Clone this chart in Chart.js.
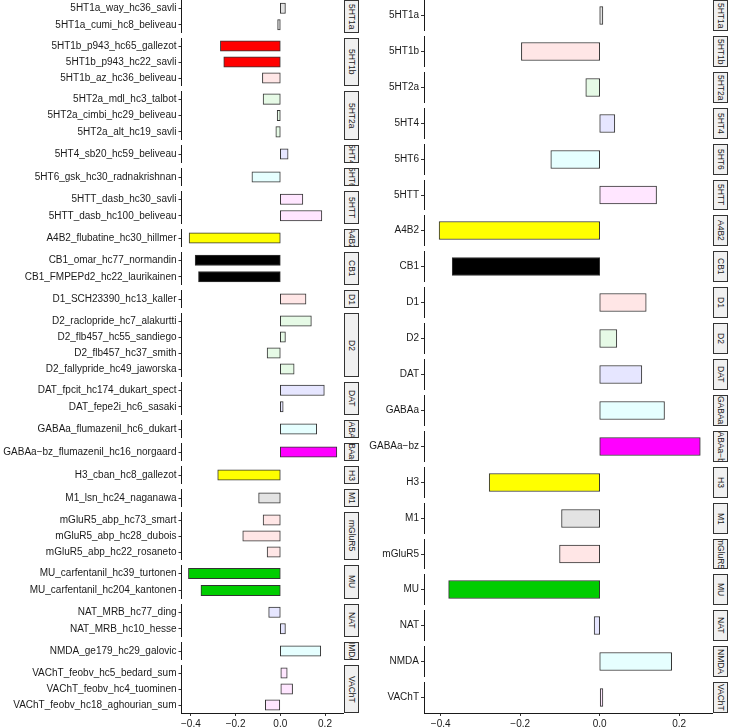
<!DOCTYPE html>
<html lang="en">
<head>
  <meta charset="UTF-8">
  <title>Receptor effects</title>
  <script src="https://cdn.jsdelivr.net/npm/chart.js"></script>
  <style>
    body { margin: 0; background: #fff; }
    #wrap { position: relative; width: 730px; height: 727px; overflow: hidden; font-family: "Liberation Sans", Arial, sans-serif; }
    #wrap canvas { position: absolute; }
    .strip {
      position: absolute; box-sizing: border-box;
      background: #f0f0f0; border: 1px solid #333;
      overflow: hidden; display: flex; align-items: center; justify-content: center;
    }
    .strip span { writing-mode: vertical-rl; font-size: 8.5px; color: #1a1a1a; white-space: nowrap; line-height: 1; }
  </style>
</head>
<body>
<div id="wrap"></div>
<script>
  // left panel: one bar per map
  const studyLabels = [
    "5HT1a_way_hc36_savli", "5HT1a_cumi_hc8_beliveau",
    "5HT1b_p943_hc65_gallezot", "5HT1b_p943_hc22_savli", "5HT1b_az_hc36_beliveau",
    "5HT2a_mdl_hc3_talbot", "5HT2a_cimbi_hc29_beliveau", "5HT2a_alt_hc19_savli",
    "5HT4_sb20_hc59_beliveau",
    "5HT6_gsk_hc30_radnakrishnan",
    "5HTT_dasb_hc30_savli", "5HTT_dasb_hc100_beliveau",
    "A4B2_flubatine_hc30_hillmer",
    "CB1_omar_hc77_normandin", "CB1_FMPEPd2_hc22_laurikainen",
    "D1_SCH23390_hc13_kaller",
    "D2_raclopride_hc7_alakurtti", "D2_flb457_hc55_sandiego", "D2_flb457_hc37_smith", "D2_fallypride_hc49_jaworska",
    "DAT_fpcit_hc174_dukart_spect", "DAT_fepe2i_hc6_sasaki",
    "GABAa_flumazenil_hc6_dukart",
    "GABAa-bz_flumazenil_hc16_norgaard",
    "H3_cban_hc8_gallezot",
    "M1_lsn_hc24_naganawa",
    "mGluR5_abp_hc73_smart", "mGluR5_abp_hc28_dubois", "mGluR5_abp_hc22_rosaneto",
    "MU_carfentanil_hc39_turtonen", "MU_carfentanil_hc204_kantonen",
    "NAT_MRB_hc77_ding", "NAT_MRB_hc10_hesse",
    "NMDA_ge179_hc29_galovic",
    "VAChT_feobv_hc5_bedard_sum", "VAChT_feobv_hc4_tuominen", "VAChT_feobv_hc18_aghourian_sum"
  ];
  const studyGroups = [
    "5HT1a", "5HT1a",
    "5HT1b", "5HT1b", "5HT1b",
    "5HT2a", "5HT2a", "5HT2a",
    "5HT4",
    "5HT6",
    "5HTT", "5HTT",
    "A4B2",
    "CB1", "CB1",
    "D1",
    "D2", "D2", "D2", "D2",
    "DAT", "DAT",
    "GABAa",
    "GABAa-bz",
    "H3",
    "M1",
    "mGluR5", "mGluR5", "mGluR5",
    "MU", "MU",
    "NAT", "NAT",
    "NMDA",
    "VAChT", "VAChT", "VAChT"
  ];
  const studyValues = [
    0.023, -0.012,
    -0.268, -0.253, -0.080,
    -0.077, -0.014, -0.020,
    0.035,
    -0.127,
    0.101, 0.186,
    -0.408,
    -0.381, -0.366,
    0.115,
    0.139, 0.023, -0.059, 0.062,
    0.197, 0.013,
    0.163,
    0.253,
    -0.280,
    -0.097,
    -0.077, -0.168, -0.059,
    -0.411, -0.355,
    -0.052, 0.023,
    0.181,
    0.031, 0.055, -0.067
  ];
  const studySig = [
    0, 0,
    1, 1, 0,
    0, 0, 0,
    0,
    0,
    0, 0,
    1,
    1, 1,
    0,
    0, 0, 0, 0,
    0, 0,
    0,
    1,
    1,
    0,
    0, 0, 0,
    1, 1,
    0, 0,
    0,
    0, 0, 0
  ];

  // right panel: one bar per receptor
  const receptors = ["5HT1a", "5HT1b", "5HT2a", "5HT4", "5HT6", "5HTT", "A4B2", "CB1", "D1", "D2",
    "DAT", "GABAa", "GABAa-bz", "H3", "M1", "mGluR5", "MU", "NAT", "NMDA", "VAChT"];
  const receptorValues = [0.008, -0.197, -0.035, 0.038, -0.123, 0.143, -0.404, -0.371, 0.117, 0.043,
    0.106, 0.163, 0.253, -0.278, -0.096, -0.101, -0.380, -0.014, 0.181, 0.008];
  const receptorSig = [0, 0, 0, 0, 0, 0, 1, 1, 0, 0,
    0, 0, 1, 1, 0, 0, 1, 0, 0, 0];

  const xTicks = [-0.4, -0.2, 0, 0.2];
  const xMin = -0.442, xMax = 0.285;

  // colour family of each receptor, full for significant bars, pale otherwise
  const receptorHue = ["grey", "red", "green", "blue", "cyan", "magenta", "yellow", "black", "red", "green",
    "blue", "cyan", "magenta", "yellow", "grey", "red", "green", "blue", "cyan", "magenta"];
  const fullCols = { grey: "#bebebe", red: "#ff0000", green: "#00cd00", blue: "#0000ff", cyan: "#00ffff", magenta: "#ff00ff", yellow: "#ffff00", black: "#000000" };
  const paleCols = { grey: "#e3e3e3", red: "#ffe6e6", green: "#e6fae6", blue: "#e6e6ff", cyan: "#e6ffff", magenta: "#ffe6ff", yellow: "#ffffe6", black: "#e6e6e6" };
  function barColor(group, sig) {
    const hue = receptorHue[receptors.indexOf(group)];
    return sig ? fullCols[hue] : paleCols[hue];
  }

  const fam = '"Liberation Sans", Arial, sans-serif';
  Chart.defaults.font.family = fam;
  const minus = s => String(s).replace('-', '\u2212');
  const fmtNum = v => (v < 0 ? '\u2212' : '') + Math.abs(v).toFixed(1);

  const wrap = document.getElementById('wrap');
  const xAxisH = 14;

  function makeFacet(side, f, top, bottom, u, last) {
    const t = Math.round(top), b = Math.round(bottom);
    const w = side.plotRight - side.x0;
    const h = b - t + (last ? xAxisH : 0);
    const cv = document.createElement('canvas');
    cv.width = w; cv.height = h;
    cv.style.left = side.x0 + 'px'; cv.style.top = t + 'px';
    cv.style.width = w + 'px'; cv.style.height = h + 'px';
    wrap.appendChild(cv);

    new Chart(cv, {
      type: 'bar',
      data: {
        labels: f.labels.map(minus),
        datasets: [{
          data: f.values,
          backgroundColor: f.values.map((v, i) => barColor(f.group, f.sig[i])),
          borderColor: '#333',
          borderWidth: 1,
          borderSkipped: false,
          barThickness: 0.7 * u
        }]
      },
      options: {
        indexAxis: 'y',
        responsive: false,
        animation: false,
        devicePixelRatio: 1,
        layout: { padding: 0 },
        plugins: { legend: { display: false }, tooltip: { enabled: false } },
        scales: {
          y: {
            offset: true,
            grid: { offset: false, drawOnChartArea: false, tickLength: 3, tickColor: '#333' },
            border: { display: true, color: '#1a1a1a', width: 1 },
            ticks: { autoSkip: false, padding: 2, color: '#1a1a1a', font: { size: 10 } },
            afterFit: s => { s.width = side.axisX - side.x0; s.paddingTop = 0; s.paddingBottom = 0; }
          },
          x: {
            type: 'linear',
            min: xMin, max: xMax,
            display: last,
            afterBuildTicks: s => { s.ticks = xTicks.map(v => ({ value: v })); },
            grid: { drawOnChartArea: false, tickLength: 3, tickColor: '#333' },
            border: { display: true, color: '#1a1a1a', width: 1 },
            ticks: { padding: 2, color: '#1a1a1a', font: { size: 10 }, callback: v => fmtNum(v) },
            afterFit: s => {
              s.height = last ? xAxisH : 0;
              s.paddingLeft = 0; s.paddingRight = 0;
            }
          }
        }
      }
    });
  }

  function makeStrip(side, name, top, bottom) {
    const t = Math.round(top), b = Math.round(bottom);
    const d = document.createElement('div');
    d.className = 'strip';
    d.style.left = side.plotRight + 'px';
    d.style.top = t + 'px';
    d.style.width = side.stripW + 'px';
    d.style.height = (b - t) + 'px';
    const sp = document.createElement('span');
    sp.textContent = minus(name);
    d.appendChild(sp);
    wrap.appendChild(d);
  }

  function drawSide(side, labels, groups, values, sig) {
    const facets = [];
    labels.forEach((lab, i) => {
      let f = facets[facets.length - 1];
      if (!f || f.group !== groups[i]) {
        f = { group: groups[i], labels: [], values: [], sig: [] };
        facets.push(f);
      }
      f.labels.push(lab); f.values.push(values[i]); f.sig.push(sig[i]);
    });
    const units = facets.reduce((s, f) => s + f.labels.length + 0.2, 0);
    const u = (side.bottom - side.top - (facets.length - 1) * side.gap) / units;
    let y = side.top;
    facets.forEach((f, k) => {
      const h = (f.labels.length + 0.2) * u;
      makeFacet(side, f, y, y + h, u, k === facets.length - 1);
      makeStrip(side, f.group, y, y + h);
      y += h + side.gap;
    });
  }

  const leftSide = { x0: 0, axisX: 181.5, plotRight: 344, stripW: 15, top: 0, bottom: 713, gap: 5 };
  const rightSide = { x0: 365, axisX: 424, plotRight: 713, stripW: 15, top: 0, bottom: 713, gap: 5 };

  drawSide(leftSide, studyLabels, studyGroups, studyValues, studySig);
  drawSide(rightSide, receptors, receptors, receptorValues, receptorSig);
</script>
</body>
</html>
